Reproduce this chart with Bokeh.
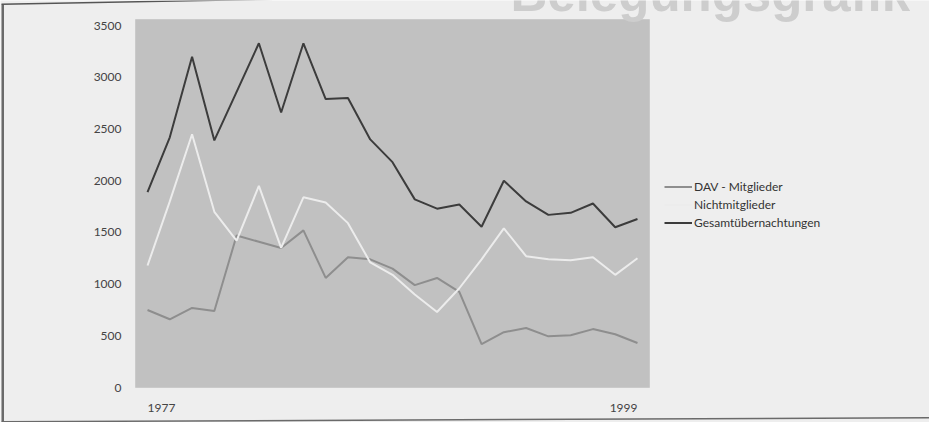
from bokeh.plotting import figure
from bokeh.models import (Legend, LegendItem, Label, BoxAnnotation, PolyAnnotation,
                          FixedTicker, Range1d, ColumnDataSource, LinearAxis)
from bokeh.core.properties import value
from bokeh.embed import file_html
from bokeh.resources import INLINE

years = list(range(1977, 2000))
gesamt = [1890, 2420, 3200, 2390, 2860, 3330, 2660, 3330, 2790, 2800, 2400, 2180,
          1820, 1730, 1770, 1555, 2000, 1800, 1670, 1690, 1780, 1550, 1630]
dav = [750, 660, 770, 740, 1470, 1410, 1350, 1520, 1060, 1260, 1240, 1150,
       990, 1060, 925, 420, 535, 575, 495, 505, 565, 515, 430]
nicht = [1180, 1800, 2450, 1700, 1420, 1950, 1350, 1840, 1790, 1590, 1210, 1090,
         900, 730, 960, 1240, 1540, 1270, 1240, 1230, 1260, 1090, 1250]
y_ticks = [0, 500, 1000, 1500, 2000, 2500, 3000, 3500]
x_first, x_last = 1977, 1999
labels = ["DAV - Mitglieder", "Nichtmitglieder", "Gesamtübernachtungen"]
title_text = "Belegungsgrafik"

# plot area (grey box) in data units
X0, X1 = 1976.46, 1999.54
Y0, Y1 = 0, 3560

W, H = 929, 422
BL, BR, BT, BB = 135, 649, 19, 387  # grey box edges in canvas px
sx = (BR - BL) / (X1 - X0)
sy = (BB - BT) / (Y1 - Y0)

p = figure(width=W, height=H, output_backend="svg", toolbar_location=None,
           x_axis_type=None, y_axis_type=None,
           x_range=Range1d(X0 - BL / sx, X1 + (W - BR) / sx),
           y_range=Range1d(Y0 - (H - BB) / sy, Y1 + BT / sy),
           min_border=0)
p.background_fill_color = "#eeeeee"
p.border_fill_color = "#eeeeee"
p.outline_line_color = None
p.grid.visible = False

# grey plotting area
p.add_layout(BoxAnnotation(left=X0, right=X1, bottom=Y0, top=Y1, level="underlay",
                           fill_color="#c1c1c1", fill_alpha=1,
                           line_color="#a8a8a8", line_width=1))

yax = LinearAxis(fixed_location=X0, ticker=FixedTicker(ticks=y_ticks),
                 major_label_standoff=8)
yax.axis_line_color = None
yax.major_tick_line_color = None
yax.minor_tick_line_color = None
yax.major_label_text_font = "Lato"
yax.major_label_text_font_size = "12px"
yax.major_label_text_color = "#444444"
p.add_layout(yax, "left")

# year labels below the plotting area: first left-aligned, last right-aligned
p.text(x=[x_first], y=[Y0], text=[str(x_first)], text_align="left",
       text_baseline="top", y_offset=16, text_font=value("Lato"),
       text_font_size="12px", text_color="#444444")
p.text(x=[x_last], y=[Y0], text=[str(x_last)], text_align="right",
       text_baseline="top", y_offset=16, text_font=value("Lato"),
       text_font_size="12px", text_color="#444444")

src = ColumnDataSource(dict(x=years, g=gesamt, d=dav, n=nicht))
r_d = p.line("x", "d", source=src, line_color="#8e8e8e", line_width=2)
r_n = p.line("x", "n", source=src, line_color="#ececec", line_width=2)
r_g = p.line("x", "g", source=src, line_color="#3c3c3c", line_width=2)

legend = Legend(items=[LegendItem(label=labels[0], renderers=[r_d]),
                       LegendItem(label=labels[1], renderers=[r_n]),
                       LegendItem(label=labels[2], renderers=[r_g])],
                location=(664, 191), orientation="vertical",
                background_fill_alpha=0, border_line_alpha=0,
                glyph_width=28, glyph_height=17, label_height=17,
                label_standoff=2, spacing=1, padding=0, margin=0,
                label_text_font="Lato", label_text_font_size="12px",
                label_text_color="#333333")
p.add_layout(legend)


def fy(cy):
    return H - cy


# title, partially cut by top edge
p.add_layout(Label(x=510, y=fy(-7), x_units="screen", y_units="screen",
                   text=title_text, text_font="Liberation Sans", text_font_style="bold",
                   text_font_size="51px", text_color="#cdcdcd",
                   text_baseline="alphabetic"))

# frame decoration lines
p.add_layout(BoxAnnotation(left=1, right=3.5, top=fy(4), bottom=fy(421),
                           left_units="screen", right_units="screen",
                           top_units="screen", bottom_units="screen",
                           fill_color="#6a6a6a", fill_alpha=1, line_alpha=0))
p.add_layout(PolyAnnotation(xs=[1, W, W, 1],
                            ys=[fy(422), fy(418), fy(416.5), fy(420.5)],
                            xs_units="screen", ys_units="screen",
                            fill_color="#6a6a6a", fill_alpha=1, line_alpha=0))
p.add_layout(PolyAnnotation(xs=[1, 492, 492, 1],
                            ys=[fy(3), fy(-6), fy(-4.5), fy(4.5)],
                            xs_units="screen", ys_units="screen",
                            fill_color="#555555", fill_alpha=1, line_alpha=0))

open("out.html", "w").write(file_html(p, INLINE))
